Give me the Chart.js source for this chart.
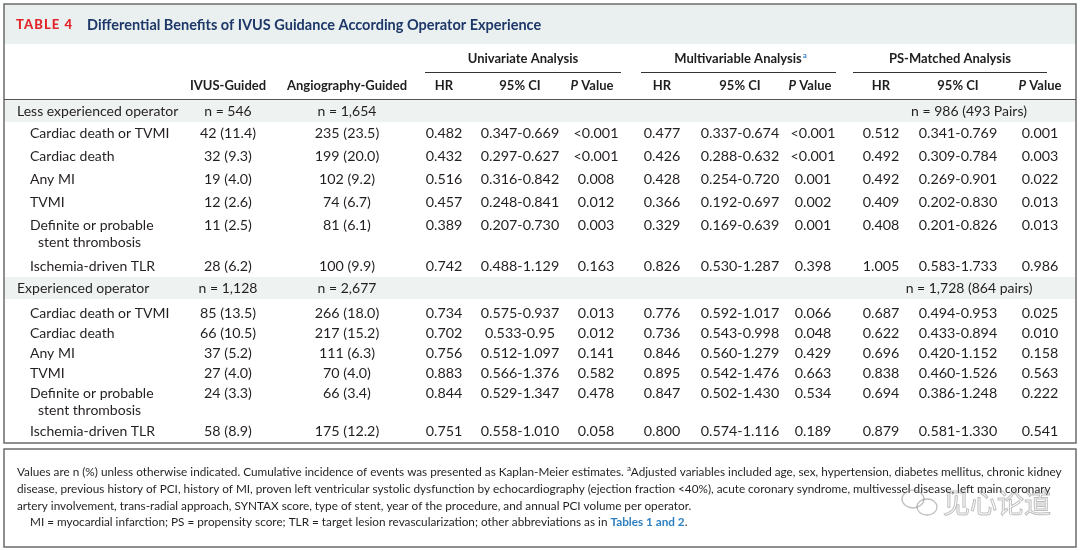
<!DOCTYPE html>
<html>
<head>
<meta charset="utf-8">
<script src="https://cdn.jsdelivr.net/npm/chart.js@4.4.1/dist/chart.umd.min.js"></script>
<style>
  body { margin: 0; background: #fff; }
  canvas { display: block; }
</style>
</head>
<body>
<canvas id="table-4" width="1080" height="551"></canvas>
<script>
// table values
var groups = ["Less experienced operator", "Experienced operator"];
var groupIvusN = ["n = 546", "n = 1,128"];
var groupAngioN = ["n = 1,654", "n = 2,677"];
var groupPsN = ["n = 986 (493 Pairs)", "n = 1,728 (864 pairs)"];
var outcomes = ["Cardiac death or TVMI", "Cardiac death", "Any MI", "TVMI", "Definite or probable|stent thrombosis", "Ischemia-driven TLR"];

// less experienced operator
var lessIvus = ["42 (11.4)", "32 (9.3)", "19 (4.0)", "12 (2.6)", "11 (2.5)", "28 (6.2)"];
var lessAngio = ["235 (23.5)", "199 (20.0)", "102 (9.2)", "74 (6.7)", "81 (6.1)", "100 (9.9)"];
var lessUniHR = ["0.482", "0.432", "0.516", "0.457", "0.389", "0.742"];
var lessUniCI = ["0.347-0.669", "0.297-0.627", "0.316-0.842", "0.248-0.841", "0.207-0.730", "0.488-1.129"];
var lessUniP = ["<0.001", "<0.001", "0.008", "0.012", "0.003", "0.163"];
var lessMultiHR = ["0.477", "0.426", "0.428", "0.366", "0.329", "0.826"];
var lessMultiCI = ["0.337-0.674", "0.288-0.632", "0.254-0.720", "0.192-0.697", "0.169-0.639", "0.530-1.287"];
var lessMultiP = ["<0.001", "<0.001", "0.001", "0.002", "0.001", "0.398"];
var lessPsHR = ["0.512", "0.492", "0.492", "0.409", "0.408", "1.005"];
var lessPsCI = ["0.341-0.769", "0.309-0.784", "0.269-0.901", "0.202-0.830", "0.201-0.826", "0.583-1.733"];
var lessPsP = ["0.001", "0.003", "0.022", "0.013", "0.013", "0.986"];

// experienced operator
var expIvus = ["85 (13.5)", "66 (10.5)", "37 (5.2)", "27 (4.0)", "24 (3.3)", "58 (8.9)"];
var expAngio = ["266 (18.0)", "217 (15.2)", "111 (6.3)", "70 (4.0)", "66 (3.4)", "175 (12.2)"];
var expUniHR = ["0.734", "0.702", "0.756", "0.883", "0.844", "0.751"];
var expUniCI = ["0.575-0.937", "0.533-0.95", "0.512-1.097", "0.566-1.376", "0.529-1.347", "0.558-1.010"];
var expUniP = ["0.013", "0.012", "0.141", "0.582", "0.478", "0.058"];
var expMultiHR = ["0.776", "0.736", "0.846", "0.895", "0.847", "0.800"];
var expMultiCI = ["0.592-1.017", "0.543-0.998", "0.560-1.279", "0.542-1.476", "0.502-1.430", "0.574-1.116"];
var expMultiP = ["0.066", "0.048", "0.429", "0.663", "0.534", "0.189"];
var expPsHR = ["0.687", "0.622", "0.696", "0.838", "0.694", "0.879"];
var expPsCI = ["0.494-0.953", "0.433-0.894", "0.420-1.152", "0.460-1.526", "0.386-1.248", "0.581-1.330"];
var expPsP = ["0.025", "0.010", "0.158", "0.563", "0.222", "0.541"];

var analyses = ["Univariate Analysis", "Multivariable Analysis", "PS-Matched Analysis"];
var colHeads = ["IVUS-Guided", "Angiography-Guided", "HR", "95% CI", "P Value", "HR", "95% CI", "P Value", "HR", "95% CI", "P Value"];
var footLines = [
    "Values are n (%) unless otherwise indicated. Cumulative incidence of events was presented as Kaplan-Meier estimates. |a|Adjusted variables included age, sex, hypertension, diabetes mellitus, chronic kidney",
    "disease, previous history of PCI, history of MI, proven left ventricular systolic dysfunction by echocardiography (ejection fraction <40%), acute coronary syndrome, multivessel disease, left main coronary",
    "artery involvement, trans-radial approach, SYNTAX score, type of stent, year of the procedure, and annual PCI volume per operator.",
    "MI = myocardial infarction; PS = propensity score; TLR = target lesion revascularization; other abbreviations as in |Tables 1 and 2|."
];

// layout (scale units = page pixels)
var colX = [228, 347, 444, 520, 596, 662, 740, 813, 881, 958, 1040];
var groupY = [111, 288];
var rowY = [[133, 156, 179, 202, 225, 266], [313, 333, 353, 373, 393, 431]];
var lineGap = 17;

var FONT = "Lato, 'Open Sans', sans-serif";
var TEXT = "#231f20";

var valueCols = [
    [lessIvus, lessAngio, lessUniHR, lessUniCI, lessUniP, lessMultiHR, lessMultiCI, lessMultiP, lessPsHR, lessPsCI, lessPsP],
    [expIvus, expAngio, expUniHR, expUniCI, expUniP, expMultiHR, expMultiCI, expMultiP, expPsHR, expPsCI, expPsP]
];

// one dataset per group, one point per cell
var datasets = [];
for (let g = 0; g < groups.length; g++) {
    var pts = [];
    for (let c = 0; c < colX.length; c++) {
        for (let r = 0; r < outcomes.length; r++) {
            pts.push({ x: colX[c], y: rowY[g][r], text: valueCols[g][c][r] });
        }
    }
    datasets.push({ label: groups[g], data: pts, pointRadius: 0, showLine: false });
}

function hline(ctx, x1, x2, y, color, w) {
    ctx.strokeStyle = color;
    ctx.lineWidth = w;
    ctx.beginPath();
    ctx.moveTo(x1, y);
    ctx.lineTo(x2, y);
    ctx.stroke();
}

var tablePlugin = {
    id: "tablePlugin",
    beforeDatasetsDraw: function(chart) {
        const ctx = chart.ctx;
        const xs = chart.scales.x, ys = chart.scales.y;
        const px = v => xs.getPixelForValue(v), py = v => ys.getPixelForValue(v);
        ctx.save();
        ctx.fillStyle = "#ffffff";
        ctx.fillRect(0, 0, chart.width, chart.height);
        // title band
        ctx.fillStyle = "#e9f0ef";
        ctx.fillRect(px(4), py(4), px(1076) - px(4), py(44) - py(4));
        // group bands
        ctx.fillStyle = "#eef3f2";
        for (let g = 0; g < groups.length; g++) {
            ctx.fillRect(px(4), py(groupY[g] - 11), px(1076) - px(4), 22);
        }
        // borders
        ctx.strokeStyle = "#6b6b6b";
        ctx.lineWidth = 1.5;
        ctx.strokeRect(px(4), py(4), px(1076) - px(4), py(443) - py(4));
        ctx.strokeRect(px(4), py(449), px(1076) - px(4), py(547) - py(449));
        // header rules
        hline(ctx, px(425), px(621), py(72.5), "#333", 1.2);
        hline(ctx, px(641), px(836), py(72.5), "#333", 1.2);
        hline(ctx, px(853), px(1047), py(72.5), "#333", 1.2);
        hline(ctx, px(4), px(1076), py(99.5), "#555", 1.2);
        ctx.restore();
    },
    afterDatasetsDraw: function(chart) {
        const ctx = chart.ctx;
        const xs = chart.scales.x, ys = chart.scales.y;
        const px = v => xs.getPixelForValue(v), py = v => ys.getPixelForValue(v);
        ctx.save();
        ctx.textBaseline = "middle";

        // title
        ctx.textAlign = "left";
        ctx.fillStyle = "#e3242b";
        ctx.font = "900 13px " + FONT;
        ctx.letterSpacing = "1.1px";
        ctx.fillText("TABLE 4", px(16), py(25));
        ctx.letterSpacing = "0px";
        ctx.fillStyle = "#1d3768";
        ctx.font = "bold 14.5px " + FONT;
        ctx.fillText("Differential Benefits of IVUS Guidance According Operator Experience", px(87), py(25));

        // analysis headers
        ctx.fillStyle = "#1e1e1e";
        ctx.font = "bold 13px " + FONT;
        ctx.textAlign = "center";
        var anX = [523, 738, 950];
        for (let a = 0; a < analyses.length; a++) {
            ctx.fillText(analyses[a], px(anX[a]), py(59));
        }
        // superscript a
        var w = ctx.measureText(analyses[1]).width;
        ctx.font = "bold 8px " + FONT;
        ctx.fillStyle = "#3b86c4";
        ctx.textAlign = "left";
        ctx.fillText("a", px(738) + w / 2 + 1, py(55));

        // column headers
        ctx.fillStyle = "#1e1e1e";
        ctx.textAlign = "center";
        var headX = [228, 347, 444, 520, 592, 662, 740, 810, 881, 958, 1040];
        for (let c = 0; c < colHeads.length; c++) {
            var h = colHeads[c];
            if (h === "P Value") {
                ctx.font = "bold 13px " + FONT;
                var wv = ctx.measureText(" Value").width;
                ctx.font = "italic bold 13px " + FONT;
                var wp = ctx.measureText("P").width;
                var x0 = px(headX[c]) - (wv + wp) / 2;
                ctx.textAlign = "left";
                ctx.fillText("P", x0, py(86));
                ctx.font = "bold 13px " + FONT;
                ctx.fillText(" Value", x0 + wp, py(86));
                ctx.textAlign = "center";
            } else {
                ctx.font = "bold 13px " + FONT;
                ctx.fillText(h, px(headX[c]), py(86));
            }
        }

        // group rows
        ctx.fillStyle = TEXT;
        ctx.font = "14px " + FONT;
        for (let g = 0; g < groups.length; g++) {
            ctx.textAlign = "left";
            ctx.fillText(groups[g], px(17), py(groupY[g]));
            ctx.textAlign = "center";
            ctx.fillText(groupIvusN[g], px(colX[0]), py(groupY[g]));
            ctx.fillText(groupAngioN[g], px(colX[1]), py(groupY[g]));
            ctx.fillText(groupPsN[g], px(969), py(groupY[g]));
            // outcome labels
            ctx.textAlign = "left";
            for (let r = 0; r < outcomes.length; r++) {
                var parts = outcomes[r].split("|");
                ctx.fillText(parts[0], px(30), py(rowY[g][r]));
                if (parts[1]) ctx.fillText(parts[1], px(38), py(rowY[g][r] + lineGap));
            }
        }

        // cell values from dataset points
        ctx.font = "14.3px " + FONT;
        ctx.textAlign = "center";
        chart.data.datasets.forEach(function(ds, i) {
            var meta = chart.getDatasetMeta(i);
            meta.data.forEach(function(pt, j) {
                ctx.fillText(ds.data[j].text, pt.x, pt.y);
            });
        });

        // footnotes
        ctx.textAlign = "left";
        var fs = "11.75px ";
        var footY = [472, 489, 506, 522];
        var footX = [17, 17, 17, 30];
        for (let l = 0; l < footLines.length; l++) {
            var segs = footLines[l].split("|");
            var x = px(footX[l]);
            for (let s = 0; s < segs.length; s++) {
                if (l === 0 && s === 1) {
                    ctx.font = "8px " + FONT;
                    ctx.fillStyle = TEXT;
                    ctx.fillText(segs[s], x, py(footY[l] - 4));
                } else if (l === 3 && s === 1) {
                    ctx.font = "bold " + fs + FONT;
                    ctx.fillStyle = "#2f80c0";
                    ctx.fillText(segs[s], x, py(footY[l]));
                } else {
                    ctx.font = fs + FONT;
                    ctx.fillStyle = TEXT;
                    ctx.fillText(segs[s], x, py(footY[l]));
                }
                x += ctx.measureText(segs[s]).width;
            }
        }

        // watermark
        ctx.globalAlpha = 0.55;
        ctx.strokeStyle = "#8a8a8a";
        ctx.lineWidth = 1.3;
        ctx.beginPath();
        ctx.ellipse(px(913), py(499), 11, 9, 0, 0, Math.PI * 2);
        ctx.stroke();
        ctx.beginPath();
        ctx.ellipse(px(927), py(507), 10, 8, 0, 0, Math.PI * 2);
        ctx.stroke();
        ctx.font = "27px 'Noto Sans CJK SC', sans-serif";
        ctx.lineWidth = 1;
        ctx.strokeText("见心论道", px(943), py(503));
        ctx.globalAlpha = 1;
        ctx.restore();
    }
};

var myChart = new Chart(document.getElementById("table-4").getContext("2d"), {
    type: "scatter",
    data: { datasets: datasets },
    options: {
        responsive: false,
        animation: false,
        devicePixelRatio: 1,
        layout: { padding: 0 },
        scales: {
            x: { type: "linear", min: 0, max: 1080, display: false },
            y: { type: "linear", min: 0, max: 551, reverse: true, display: false },
        },
        plugins: { legend: { display: false }, tooltip: { enabled: false } },
    },
    plugins: [tablePlugin],
});
</script>
</body>
</html>
